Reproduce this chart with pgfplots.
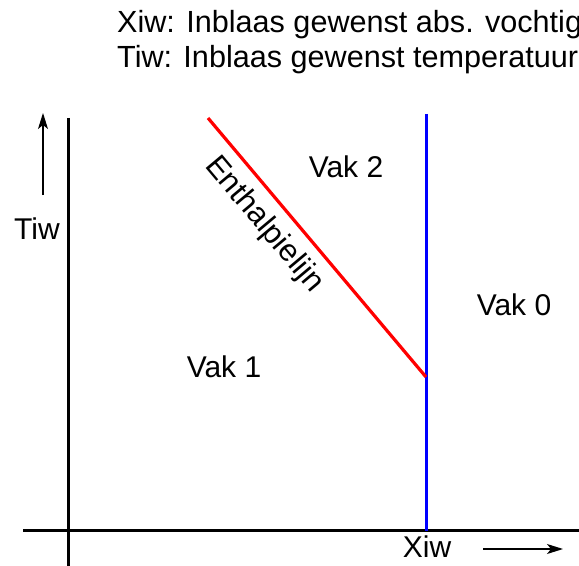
\documentclass[border=0pt]{standalone}
\usepackage{pgfplots}
\pgfplotsset{compat=1.18}
\usepackage{fontspec}
\setmainfont{Liberation Sans}
\usetikzlibrary{arrows.meta}
\tikzset{lbl/.style={font=\fontsize{30bp}{36bp}\selectfont}}
\begin{document}
\begin{tikzpicture}
\useasboundingbox (0,0) rectangle (579bp,566bp);
\clip (0,0) rectangle (579bp,566bp);
\begin{axis}[
  at={(0,0)}, anchor=south west,
  scale only axis, width=579bp, height=566bp,
  xmin=0, xmax=579, ymin=0, ymax=566, y dir=reverse,
  hide axis, clip=false,
]
% axes
\addplot[black, line width=3bp] coordinates {(23,530) (579,530)};
\addplot[black, line width=3bp] coordinates {(68,118) (68,566)};
% blue line Xiw
\addplot[blue, line width=3bp] coordinates {(426,114) (426,531)};
% red enthalpy line
\addplot[red, line width=3.2bp] coordinates {(208,118) (426,377)};
% arrows
\addplot[black, line width=1.3bp, -{Stealth[length=16bp,width=10bp,inset=4bp]}] coordinates {(43,195) (43,113)};
\addplot[black, line width=1.3bp, -{Stealth[length=16bp,width=10bp,inset=4bp]}] coordinates {(483,549) (563,549)};
% labels
\node[font=\fontsize{30.6bp}{36bp}\selectfont, anchor=base west, inner sep=0] at (axis cs:117,33) {Xiw: Inblaas gewenst abs. vochtigheid};
\node[font=\fontsize{30.6bp}{36bp}\selectfont, anchor=base west, inner sep=0] at (axis cs:117,68) {Tiw: Inblaas gewenst temperatuur};
\node[lbl] at (axis cs:37,229) {Tiw};
\node[lbl] at (axis cs:427,547) {Xiw};
\node[lbl] at (axis cs:346,167) {Vak 2};
\node[lbl] at (axis cs:514,305) {Vak 0};
\node[lbl] at (axis cs:224,367) {Vak 1};
\node[rotate=-50, font=\fontsize{31bp}{37bp}\selectfont] at (axis cs:264,225) {Enthalpielijn};
\end{axis}
\end{tikzpicture}
\end{document}
